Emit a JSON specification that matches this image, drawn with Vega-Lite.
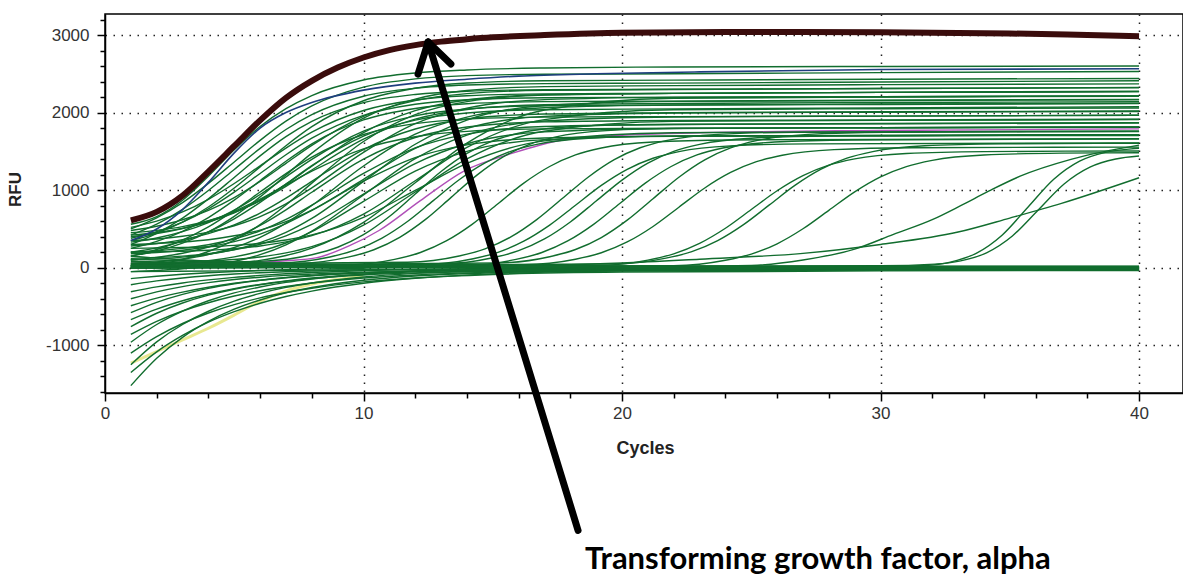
{
"$schema":"https://vega.github.io/schema/vega-lite/v6.json",
"width":1078,"height":379,
"autosize":{"type":"none"},
"padding":{"left":105,"top":14,"right":0,"bottom":184},
"background":"white",
"config":{"view":{"stroke":"#000","strokeWidth":1.5},
 "axis":{"domainColor":"#000","domainWidth":1.5,"tickColor":"#000","tickWidth":1.5,"labelFont":"Liberation Sans","labelFontSize":17,"labelColor":"#333","titleFont":"Liberation Sans","titleFontWeight":"bold","titleColor":"#222","gridColor":"#222","gridDash":[1.5,6.5],"gridWidth":1.5}},
"datasets":{
"green":[
{"id":"E1","cycle":1,"rfu":560},{"id":"E1","cycle":2,"rfu":660},{"id":"E1","cycle":3,"rfu":870},{"id":"E1","cycle":4,"rfu":1180},{"id":"E1","cycle":5,"rfu":1520},{"id":"E1","cycle":6,"rfu":1820},{"id":"E1","cycle":7,"rfu":2050},{"id":"E1","cycle":8,"rfu":2220},{"id":"E1","cycle":10,"rfu":2420},{"id":"E1","cycle":12,"rfu":2510},{"id":"E1","cycle":14,"rfu":2550},{"id":"E1","cycle":17,"rfu":2575},{"id":"E1","cycle":22,"rfu":2588},{"id":"E1","cycle":30,"rfu":2595},{"id":"E1","cycle":40,"rfu":2600},
{"id":"E2","cycle":1,"rfu":500},{"id":"E2","cycle":2,"rfu":644},{"id":"E2","cycle":3,"rfu":840},{"id":"E2","cycle":4,"rfu":1088},{"id":"E2","cycle":5,"rfu":1364},{"id":"E2","cycle":6,"rfu":1642},{"id":"E2","cycle":7,"rfu":1890},{"id":"E2","cycle":8,"rfu":2086},{"id":"E2","cycle":10,"rfu":2328},{"id":"E2","cycle":12,"rfu":2434},{"id":"E2","cycle":14,"rfu":2476},{"id":"E2","cycle":17,"rfu":2494},{"id":"E2","cycle":22,"rfu":2500},{"id":"E2","cycle":30,"rfu":2515},{"id":"E2","cycle":40,"rfu":2530},
{"id":"E3","cycle":1,"rfu":420},{"id":"E3","cycle":2,"rfu":561},{"id":"E3","cycle":3,"rfu":753},{"id":"E3","cycle":4,"rfu":996},{"id":"E3","cycle":5,"rfu":1267},{"id":"E3","cycle":6,"rfu":1539},{"id":"E3","cycle":7,"rfu":1782},{"id":"E3","cycle":8,"rfu":1974},{"id":"E3","cycle":10,"rfu":2211},{"id":"E3","cycle":12,"rfu":2315},{"id":"E3","cycle":14,"rfu":2356},{"id":"E3","cycle":17,"rfu":2374},{"id":"E3","cycle":22,"rfu":2380},{"id":"E3","cycle":30,"rfu":2395},{"id":"E3","cycle":40,"rfu":2410},
{"id":"E4","cycle":1,"rfu":300},{"id":"E4","cycle":2,"rfu":444},{"id":"E4","cycle":3,"rfu":640},{"id":"E4","cycle":4,"rfu":888},{"id":"E4","cycle":5,"rfu":1164},{"id":"E4","cycle":6,"rfu":1442},{"id":"E4","cycle":7,"rfu":1690},{"id":"E4","cycle":8,"rfu":1886},{"id":"E4","cycle":10,"rfu":2128},{"id":"E4","cycle":12,"rfu":2234},{"id":"E4","cycle":14,"rfu":2276},{"id":"E4","cycle":17,"rfu":2294},{"id":"E4","cycle":22,"rfu":2300},{"id":"E4","cycle":30,"rfu":2310},{"id":"E4","cycle":40,"rfu":2325},
{"id":"E5","cycle":1,"rfu":520},{"id":"E5","cycle":2,"rfu":601},{"id":"E5","cycle":3,"rfu":719},{"id":"E5","cycle":4,"rfu":882},{"id":"E5","cycle":5,"rfu":1086},{"id":"E5","cycle":6,"rfu":1314},{"id":"E5","cycle":7,"rfu":1542},{"id":"E5","cycle":8,"rfu":1747},{"id":"E5","cycle":10,"rfu":2027},{"id":"E5","cycle":12,"rfu":2162},{"id":"E5","cycle":14,"rfu":2217},{"id":"E5","cycle":17,"rfu":2241},{"id":"E5","cycle":22,"rfu":2248},{"id":"E5","cycle":30,"rfu":2260},{"id":"E5","cycle":40,"rfu":2275},
{"id":"E6","cycle":1,"rfu":380},{"id":"E6","cycle":2,"rfu":466},{"id":"E6","cycle":3,"rfu":589},{"id":"E6","cycle":4,"rfu":760},{"id":"E6","cycle":5,"rfu":975},{"id":"E6","cycle":6,"rfu":1215},{"id":"E6","cycle":7,"rfu":1456},{"id":"E6","cycle":8,"rfu":1670},{"id":"E6","cycle":10,"rfu":1965},{"id":"E6","cycle":12,"rfu":2107},{"id":"E6","cycle":14,"rfu":2165},{"id":"E6","cycle":17,"rfu":2191},{"id":"E6","cycle":22,"rfu":2198},{"id":"E6","cycle":30,"rfu":2205},{"id":"E6","cycle":40,"rfu":2215},
{"id":"E7","cycle":1,"rfu":250},{"id":"E7","cycle":2,"rfu":339},{"id":"E7","cycle":3,"rfu":469},{"id":"E7","cycle":4,"rfu":647},{"id":"E7","cycle":5,"rfu":871},{"id":"E7","cycle":6,"rfu":1122},{"id":"E7","cycle":7,"rfu":1373},{"id":"E7","cycle":8,"rfu":1597},{"id":"E7","cycle":10,"rfu":1905},{"id":"E7","cycle":12,"rfu":2053},{"id":"E7","cycle":14,"rfu":2114},{"id":"E7","cycle":17,"rfu":2141},{"id":"E7","cycle":22,"rfu":2148},{"id":"E7","cycle":30,"rfu":2160},{"id":"E7","cycle":40,"rfu":2170},
{"id":"E8","cycle":1,"rfu":480},{"id":"E8","cycle":2,"rfu":535},{"id":"E8","cycle":3,"rfu":618},{"id":"E8","cycle":4,"rfu":738},{"id":"E8","cycle":5,"rfu":904},{"id":"E8","cycle":6,"rfu":1112},{"id":"E8","cycle":7,"rfu":1345},{"id":"E8","cycle":8,"rfu":1577},{"id":"E8","cycle":10,"rfu":1952},{"id":"E8","cycle":12,"rfu":2154},{"id":"E8","cycle":14,"rfu":2245},{"id":"E8","cycle":17,"rfu":2287},{"id":"E8","cycle":22,"rfu":2298},{"id":"E8","cycle":30,"rfu":2310},{"id":"E8","cycle":40,"rfu":2320},
{"id":"E9","cycle":1,"rfu":330},{"id":"E9","cycle":2,"rfu":383},{"id":"E9","cycle":3,"rfu":465},{"id":"E9","cycle":4,"rfu":581},{"id":"E9","cycle":5,"rfu":742},{"id":"E9","cycle":6,"rfu":944},{"id":"E9","cycle":7,"rfu":1171},{"id":"E9","cycle":8,"rfu":1397},{"id":"E9","cycle":10,"rfu":1762},{"id":"E9","cycle":12,"rfu":1958},{"id":"E9","cycle":14,"rfu":2047},{"id":"E9","cycle":17,"rfu":2088},{"id":"E9","cycle":22,"rfu":2098},{"id":"E9","cycle":30,"rfu":2110},{"id":"E9","cycle":40,"rfu":2120},
{"id":"E10","cycle":1,"rfu":200},{"id":"E10","cycle":2,"rfu":256},{"id":"E10","cycle":3,"rfu":341},{"id":"E10","cycle":4,"rfu":463},{"id":"E10","cycle":5,"rfu":631},{"id":"E10","cycle":6,"rfu":842},{"id":"E10","cycle":7,"rfu":1079},{"id":"E10","cycle":8,"rfu":1316},{"id":"E10","cycle":10,"rfu":1697},{"id":"E10","cycle":12,"rfu":1902},{"id":"E10","cycle":14,"rfu":1995},{"id":"E10","cycle":17,"rfu":2037},{"id":"E10","cycle":22,"rfu":2048},{"id":"E10","cycle":30,"rfu":2060},{"id":"E10","cycle":40,"rfu":2075},
{"id":"E11","cycle":1,"rfu":150},{"id":"E11","cycle":2,"rfu":235},{"id":"E11","cycle":3,"rfu":357},{"id":"E11","cycle":4,"rfu":526},{"id":"E11","cycle":5,"rfu":739},{"id":"E11","cycle":6,"rfu":976},{"id":"E11","cycle":7,"rfu":1214},{"id":"E11","cycle":8,"rfu":1426},{"id":"E11","cycle":10,"rfu":1718},{"id":"E11","cycle":12,"rfu":1858},{"id":"E11","cycle":14,"rfu":1916},{"id":"E11","cycle":17,"rfu":1941},{"id":"E11","cycle":22,"rfu":1948},{"id":"E11","cycle":30,"rfu":1955},{"id":"E11","cycle":40,"rfu":1965},
{"id":"E12","cycle":1,"rfu":420},{"id":"E12","cycle":2,"rfu":455},{"id":"E12","cycle":3,"rfu":508},{"id":"E12","cycle":4,"rfu":590},{"id":"E12","cycle":5,"rfu":709},{"id":"E12","cycle":6,"rfu":872},{"id":"E12","cycle":7,"rfu":1077},{"id":"E12","cycle":8,"rfu":1308},{"id":"E12","cycle":10,"rfu":1743},{"id":"E12","cycle":12,"rfu":2025},{"id":"E12","cycle":14,"rfu":2162},{"id":"E12","cycle":17,"rfu":2230},{"id":"E12","cycle":22,"rfu":2248},{"id":"E12","cycle":30,"rfu":2260},{"id":"E12","cycle":40,"rfu":2270},
{"id":"E13","cycle":1,"rfu":280},{"id":"E13","cycle":2,"rfu":313},{"id":"E13","cycle":3,"rfu":363},{"id":"E13","cycle":4,"rfu":440},{"id":"E13","cycle":5,"rfu":552},{"id":"E13","cycle":6,"rfu":705},{"id":"E13","cycle":7,"rfu":897},{"id":"E13","cycle":8,"rfu":1114},{"id":"E13","cycle":10,"rfu":1524},{"id":"E13","cycle":12,"rfu":1788},{"id":"E13","cycle":14,"rfu":1917},{"id":"E13","cycle":17,"rfu":1981},{"id":"E13","cycle":22,"rfu":1998},{"id":"E13","cycle":30,"rfu":2010},{"id":"E13","cycle":40,"rfu":2020},
{"id":"E14","cycle":1,"rfu":100},{"id":"E14","cycle":2,"rfu":134},{"id":"E14","cycle":3,"rfu":186},{"id":"E14","cycle":4,"rfu":267},{"id":"E14","cycle":5,"rfu":384},{"id":"E14","cycle":6,"rfu":545},{"id":"E14","cycle":7,"rfu":746},{"id":"E14","cycle":8,"rfu":973},{"id":"E14","cycle":10,"rfu":1401},{"id":"E14","cycle":12,"rfu":1679},{"id":"E14","cycle":14,"rfu":1814},{"id":"E14","cycle":17,"rfu":1880},{"id":"E14","cycle":22,"rfu":1898},{"id":"E14","cycle":30,"rfu":1905},{"id":"E14","cycle":40,"rfu":1915},
{"id":"E15","cycle":1,"rfu":350},{"id":"E15","cycle":2,"rfu":370},{"id":"E15","cycle":3,"rfu":406},{"id":"E15","cycle":4,"rfu":459},{"id":"E15","cycle":5,"rfu":541},{"id":"E15","cycle":6,"rfu":659},{"id":"E15","cycle":7,"rfu":824},{"id":"E15","cycle":8,"rfu":1029},{"id":"E15","cycle":10,"rfu":1488},{"id":"E15","cycle":12,"rfu":1858},{"id":"E15","cycle":14,"rfu":2058},{"id":"E15","cycle":17,"rfu":2167},{"id":"E15","cycle":22,"rfu":2196},{"id":"E15","cycle":30,"rfu":2205},{"id":"E15","cycle":40,"rfu":2215},
{"id":"E16","cycle":1,"rfu":200},{"id":"E16","cycle":2,"rfu":218},{"id":"E16","cycle":3,"rfu":250},{"id":"E16","cycle":4,"rfu":297},{"id":"E16","cycle":5,"rfu":370},{"id":"E16","cycle":6,"rfu":476},{"id":"E16","cycle":7,"rfu":622},{"id":"E16","cycle":8,"rfu":806},{"id":"E16","cycle":10,"rfu":1215},{"id":"E16","cycle":12,"rfu":1545},{"id":"E16","cycle":14,"rfu":1723},{"id":"E16","cycle":17,"rfu":1820},{"id":"E16","cycle":22,"rfu":1847},{"id":"E16","cycle":30,"rfu":1855},{"id":"E16","cycle":40,"rfu":1865},
{"id":"E17","cycle":1,"rfu":50},{"id":"E17","cycle":2,"rfu":73},{"id":"E17","cycle":3,"rfu":112},{"id":"E17","cycle":4,"rfu":171},{"id":"E17","cycle":5,"rfu":261},{"id":"E17","cycle":6,"rfu":392},{"id":"E17","cycle":7,"rfu":575},{"id":"E17","cycle":8,"rfu":802},{"id":"E17","cycle":10,"rfu":1311},{"id":"E17","cycle":12,"rfu":1721},{"id":"E17","cycle":14,"rfu":1942},{"id":"E17","cycle":17,"rfu":2063},{"id":"E17","cycle":22,"rfu":2096},{"id":"E17","cycle":30,"rfu":2105},{"id":"E17","cycle":40,"rfu":2115},
{"id":"E18","cycle":1,"rfu":300},{"id":"E18","cycle":2,"rfu":312},{"id":"E18","cycle":3,"rfu":331},{"id":"E18","cycle":4,"rfu":361},{"id":"E18","cycle":5,"rfu":412},{"id":"E18","cycle":6,"rfu":485},{"id":"E18","cycle":7,"rfu":594},{"id":"E18","cycle":8,"rfu":744},{"id":"E18","cycle":10,"rfu":1140},{"id":"E18","cycle":12,"rfu":1538},{"id":"E18","cycle":14,"rfu":1796},{"id":"E18","cycle":17,"rfu":1951},{"id":"E18","cycle":22,"rfu":1995},{"id":"E18","cycle":30,"rfu":2005},{"id":"E18","cycle":40,"rfu":2015},
{"id":"E19","cycle":1,"rfu":120},{"id":"E19","cycle":2,"rfu":132},{"id":"E19","cycle":3,"rfu":150},{"id":"E19","cycle":4,"rfu":180},{"id":"E19","cycle":5,"rfu":231},{"id":"E19","cycle":6,"rfu":303},{"id":"E19","cycle":7,"rfu":411},{"id":"E19","cycle":8,"rfu":558},{"id":"E19","cycle":10,"rfu":950},{"id":"E19","cycle":12,"rfu":1343},{"id":"E19","cycle":14,"rfu":1598},{"id":"E19","cycle":17,"rfu":1751},{"id":"E19","cycle":22,"rfu":1795},{"id":"E19","cycle":30,"rfu":1805},{"id":"E19","cycle":40,"rfu":1815},
{"id":"E20","cycle":1,"rfu":-50},{"id":"E20","cycle":2,"rfu":-36},{"id":"E20","cycle":3,"rfu":-14},{"id":"E20","cycle":4,"rfu":22},{"id":"E20","cycle":5,"rfu":82},{"id":"E20","cycle":6,"rfu":168},{"id":"E20","cycle":7,"rfu":296},{"id":"E20","cycle":8,"rfu":472},{"id":"E20","cycle":10,"rfu":938},{"id":"E20","cycle":12,"rfu":1406},{"id":"E20","cycle":14,"rfu":1710},{"id":"E20","cycle":17,"rfu":1892},{"id":"E20","cycle":22,"rfu":1944},{"id":"E20","cycle":30,"rfu":1955},{"id":"E20","cycle":40,"rfu":1965},
{"id":"E21","cycle":1,"rfu":250},{"id":"E21","cycle":2,"rfu":255},{"id":"E21","cycle":3,"rfu":261},{"id":"E21","cycle":4,"rfu":271},{"id":"E21","cycle":5,"rfu":288},{"id":"E21","cycle":6,"rfu":315},{"id":"E21","cycle":7,"rfu":358},{"id":"E21","cycle":8,"rfu":423},{"id":"E21","cycle":10,"rfu":649},{"id":"E21","cycle":12,"rfu":997},{"id":"E21","cycle":14,"rfu":1345},{"id":"E21","cycle":17,"rfu":1636},{"id":"E21","cycle":22,"rfu":1740},{"id":"E21","cycle":30,"rfu":1752},{"id":"E21","cycle":40,"rfu":1760},
{"id":"E22","cycle":1,"rfu":60},{"id":"E22","cycle":2,"rfu":66},{"id":"E22","cycle":3,"rfu":73},{"id":"E22","cycle":4,"rfu":86},{"id":"E22","cycle":5,"rfu":106},{"id":"E22","cycle":6,"rfu":139},{"id":"E22","cycle":7,"rfu":192},{"id":"E22","cycle":8,"rfu":272},{"id":"E22","cycle":10,"rfu":549},{"id":"E22","cycle":12,"rfu":976},{"id":"E22","cycle":14,"rfu":1403},{"id":"E22","cycle":17,"rfu":1760},{"id":"E22","cycle":22,"rfu":1887},{"id":"E22","cycle":30,"rfu":1900},{"id":"E22","cycle":40,"rfu":1910},
{"id":"E23","cycle":1,"rfu":180},{"id":"E23","cycle":2,"rfu":197},{"id":"E23","cycle":3,"rfu":226},{"id":"E23","cycle":4,"rfu":270},{"id":"E23","cycle":5,"rfu":337},{"id":"E23","cycle":6,"rfu":434},{"id":"E23","cycle":7,"rfu":569},{"id":"E23","cycle":8,"rfu":738},{"id":"E23","cycle":10,"rfu":1115},{"id":"E23","cycle":12,"rfu":1419},{"id":"E23","cycle":14,"rfu":1583},{"id":"E23","cycle":17,"rfu":1673},{"id":"E23","cycle":22,"rfu":1697},{"id":"E23","cycle":30,"rfu":1705},{"id":"E23","cycle":40,"rfu":1715},
{"id":"E24","cycle":1,"rfu":400},{"id":"E24","cycle":2,"rfu":442},{"id":"E24","cycle":3,"rfu":506},{"id":"E24","cycle":4,"rfu":599},{"id":"E24","cycle":5,"rfu":726},{"id":"E24","cycle":6,"rfu":886},{"id":"E24","cycle":7,"rfu":1065},{"id":"E24","cycle":8,"rfu":1244},{"id":"E24","cycle":10,"rfu":1533},{"id":"E24","cycle":12,"rfu":1688},{"id":"E24","cycle":14,"rfu":1758},{"id":"E24","cycle":17,"rfu":1790},{"id":"E24","cycle":22,"rfu":1799},{"id":"E24","cycle":30,"rfu":1805},{"id":"E24","cycle":40,"rfu":1810},
{"id":"E25","cycle":1,"rfu":0},{"id":"E25","cycle":2,"rfu":43},{"id":"E25","cycle":3,"rfu":108},{"id":"E25","cycle":4,"rfu":209},{"id":"E25","cycle":5,"rfu":356},{"id":"E25","cycle":6,"rfu":556},{"id":"E25","cycle":7,"rfu":808},{"id":"E25","cycle":8,"rfu":1091},{"id":"E25","cycle":10,"rfu":1627},{"id":"E25","cycle":12,"rfu":1973},{"id":"E25","cycle":14,"rfu":2142},{"id":"E25","cycle":17,"rfu":2225},{"id":"E25","cycle":22,"rfu":2248},{"id":"E25","cycle":30,"rfu":2260},{"id":"E25","cycle":40,"rfu":2270},
{"id":"E26","cycle":1,"rfu":100},{"id":"E26","cycle":2,"rfu":114},{"id":"E26","cycle":3,"rfu":137},{"id":"E26","cycle":4,"rfu":174},{"id":"E26","cycle":5,"rfu":235},{"id":"E26","cycle":6,"rfu":323},{"id":"E26","cycle":7,"rfu":455},{"id":"E26","cycle":8,"rfu":635},{"id":"E26","cycle":10,"rfu":1113},{"id":"E26","cycle":12,"rfu":1592},{"id":"E26","cycle":14,"rfu":1904},{"id":"E26","cycle":17,"rfu":2091},{"id":"E26","cycle":22,"rfu":2144},{"id":"E26","cycle":30,"rfu":2155},{"id":"E26","cycle":40,"rfu":2165},
{"id":"E27","cycle":1,"rfu":200},{"id":"E27","cycle":2,"rfu":206},{"id":"E27","cycle":3,"rfu":213},{"id":"E27","cycle":4,"rfu":226},{"id":"E27","cycle":5,"rfu":246},{"id":"E27","cycle":6,"rfu":280},{"id":"E27","cycle":7,"rfu":333},{"id":"E27","cycle":8,"rfu":413},{"id":"E27","cycle":10,"rfu":692},{"id":"E27","cycle":12,"rfu":1121},{"id":"E27","cycle":14,"rfu":1551},{"id":"E27","cycle":17,"rfu":1909},{"id":"E27","cycle":22,"rfu":2037},{"id":"E27","cycle":30,"rfu":2050},{"id":"E27","cycle":40,"rfu":2060},
{"id":"E28","cycle":1,"rfu":350},{"id":"E28","cycle":2,"rfu":447},{"id":"E28","cycle":3,"rfu":588},{"id":"E28","cycle":4,"rfu":783},{"id":"E28","cycle":5,"rfu":1027},{"id":"E28","cycle":6,"rfu":1300},{"id":"E28","cycle":7,"rfu":1573},{"id":"E28","cycle":8,"rfu":1818},{"id":"E28","cycle":10,"rfu":2153},{"id":"E28","cycle":12,"rfu":2314},{"id":"E28","cycle":14,"rfu":2381},{"id":"E28","cycle":17,"rfu":2410},{"id":"E28","cycle":22,"rfu":2418},{"id":"E28","cycle":30,"rfu":2430},{"id":"E28","cycle":40,"rfu":2440},
{"id":"E29","cycle":1,"rfu":450},{"id":"E29","cycle":2,"rfu":482},{"id":"E29","cycle":3,"rfu":530},{"id":"E29","cycle":4,"rfu":605},{"id":"E29","cycle":5,"rfu":714},{"id":"E29","cycle":6,"rfu":862},{"id":"E29","cycle":7,"rfu":1050},{"id":"E29","cycle":8,"rfu":1260},{"id":"E29","cycle":10,"rfu":1657},{"id":"E29","cycle":12,"rfu":1915},{"id":"E29","cycle":14,"rfu":2040},{"id":"E29","cycle":17,"rfu":2102},{"id":"E29","cycle":22,"rfu":2118},{"id":"E29","cycle":30,"rfu":2130},{"id":"E29","cycle":40,"rfu":2140},
{"id":"E30","cycle":1,"rfu":150},{"id":"E30","cycle":2,"rfu":216},{"id":"E30","cycle":3,"rfu":317},{"id":"E30","cycle":4,"rfu":462},{"id":"E30","cycle":5,"rfu":663},{"id":"E30","cycle":6,"rfu":913},{"id":"E30","cycle":7,"rfu":1195},{"id":"E30","cycle":8,"rfu":1477},{"id":"E30","cycle":10,"rfu":1930},{"id":"E30","cycle":12,"rfu":2174},{"id":"E30","cycle":14,"rfu":2284},{"id":"E30","cycle":17,"rfu":2335},{"id":"E30","cycle":22,"rfu":2348},{"id":"E30","cycle":30,"rfu":2360},{"id":"E30","cycle":40,"rfu":2370},
{"id":"E31","cycle":1,"rfu":30},{"id":"E31","cycle":2,"rfu":42},{"id":"E31","cycle":3,"rfu":60},{"id":"E31","cycle":4,"rfu":90},{"id":"E31","cycle":5,"rfu":140},{"id":"E31","cycle":6,"rfu":212},{"id":"E31","cycle":7,"rfu":319},{"id":"E31","cycle":8,"rfu":466},{"id":"E31","cycle":10,"rfu":855},{"id":"E31","cycle":12,"rfu":1246},{"id":"E31","cycle":14,"rfu":1500},{"id":"E31","cycle":17,"rfu":1652},{"id":"E31","cycle":22,"rfu":1695},{"id":"E31","cycle":30,"rfu":1700},{"id":"E31","cycle":40,"rfu":1705},
{"id":"E32","cycle":1,"rfu":0},{"id":"E32","cycle":2,"rfu":7},{"id":"E32","cycle":3,"rfu":15},{"id":"E32","cycle":4,"rfu":31},{"id":"E32","cycle":5,"rfu":55},{"id":"E32","cycle":6,"rfu":95},{"id":"E32","cycle":7,"rfu":158},{"id":"E32","cycle":8,"rfu":253},{"id":"E32","cycle":10,"rfu":585},{"id":"E32","cycle":12,"rfu":1096},{"id":"E32","cycle":14,"rfu":1606},{"id":"E32","cycle":17,"rfu":2033},{"id":"E32","cycle":22,"rfu":2185},{"id":"E32","cycle":30,"rfu":2200},{"id":"E32","cycle":40,"rfu":2210},
{"id":"L1","cycle":1,"rfu":50},{"id":"L1","cycle":6,"rfu":82},{"id":"L1","cycle":8,"rfu":167},{"id":"L1","cycle":9,"rfu":264},{"id":"L1","cycle":10,"rfu":426},{"id":"L1","cycle":11,"rfu":660},{"id":"L1","cycle":12,"rfu":950},{"id":"L1","cycle":13,"rfu":1240},{"id":"L1","cycle":14,"rfu":1474},{"id":"L1","cycle":15,"rfu":1636},{"id":"L1","cycle":16,"rfu":1733},{"id":"L1","cycle":18,"rfu":1818},{"id":"L1","cycle":21,"rfu":1846},{"id":"L1","cycle":30,"rfu":1860},{"id":"L1","cycle":40,"rfu":1870},
{"id":"L2","cycle":1,"rfu":30},{"id":"L2","cycle":6.7,"rfu":60},{"id":"L2","cycle":8.7,"rfu":139},{"id":"L2","cycle":9.7,"rfu":229},{"id":"L2","cycle":10.7,"rfu":379},{"id":"L2","cycle":11.7,"rfu":596},{"id":"L2","cycle":12.7,"rfu":865},{"id":"L2","cycle":13.7,"rfu":1134},{"id":"L2","cycle":14.7,"rfu":1351},{"id":"L2","cycle":15.7,"rfu":1501},{"id":"L2","cycle":16.7,"rfu":1591},{"id":"L2","cycle":18.7,"rfu":1670},{"id":"L2","cycle":21.7,"rfu":1697},{"id":"L2","cycle":30,"rfu":1705},{"id":"L2","cycle":40,"rfu":1715},
{"id":"L3","cycle":1,"rfu":20},{"id":"L3","cycle":7.4,"rfu":52},{"id":"L3","cycle":9.4,"rfu":136},{"id":"L3","cycle":10.4,"rfu":232},{"id":"L3","cycle":11.4,"rfu":392},{"id":"L3","cycle":12.4,"rfu":623},{"id":"L3","cycle":13.4,"rfu":910},{"id":"L3","cycle":14.4,"rfu":1197},{"id":"L3","cycle":15.4,"rfu":1428},{"id":"L3","cycle":16.4,"rfu":1588},{"id":"L3","cycle":17.4,"rfu":1684},{"id":"L3","cycle":19.4,"rfu":1768},{"id":"L3","cycle":22.4,"rfu":1796},{"id":"L3","cycle":30,"rfu":1805},{"id":"L3","cycle":40,"rfu":1815},
{"id":"L4","cycle":1,"rfu":0},{"id":"L4","cycle":9.2,"rfu":30},{"id":"L4","cycle":11.2,"rfu":107},{"id":"L4","cycle":12.2,"rfu":196},{"id":"L4","cycle":13.2,"rfu":345},{"id":"L4","cycle":14.2,"rfu":559},{"id":"L4","cycle":15.2,"rfu":825},{"id":"L4","cycle":16.2,"rfu":1091},{"id":"L4","cycle":17.2,"rfu":1305},{"id":"L4","cycle":18.2,"rfu":1454},{"id":"L4","cycle":19.2,"rfu":1543},{"id":"L4","cycle":21.2,"rfu":1620},{"id":"L4","cycle":24.2,"rfu":1647},{"id":"L4","cycle":30,"rfu":1655},{"id":"L4","cycle":40,"rfu":1665},
{"id":"L5","cycle":1,"rfu":40},{"id":"L5","cycle":11.7,"rfu":71},{"id":"L5","cycle":13.7,"rfu":151},{"id":"L5","cycle":14.7,"rfu":243},{"id":"L5","cycle":15.7,"rfu":397},{"id":"L5","cycle":16.7,"rfu":620},{"id":"L5","cycle":17.7,"rfu":895},{"id":"L5","cycle":18.7,"rfu":1170},{"id":"L5","cycle":19.7,"rfu":1393},{"id":"L5","cycle":20.7,"rfu":1547},{"id":"L5","cycle":21.7,"rfu":1639},{"id":"L5","cycle":23.7,"rfu":1719},{"id":"L5","cycle":26.7,"rfu":1747},{"id":"L5","cycle":40,"rfu":1760},
{"id":"L6","cycle":1,"rfu":10},{"id":"L6","cycle":12.2,"rfu":39},{"id":"L6","cycle":14.2,"rfu":113},{"id":"L6","cycle":15.2,"rfu":199},{"id":"L6","cycle":16.2,"rfu":342},{"id":"L6","cycle":17.2,"rfu":549},{"id":"L6","cycle":18.2,"rfu":805},{"id":"L6","cycle":19.2,"rfu":1061},{"id":"L6","cycle":20.2,"rfu":1268},{"id":"L6","cycle":21.2,"rfu":1411},{"id":"L6","cycle":22.2,"rfu":1497},{"id":"L6","cycle":24.2,"rfu":1571},{"id":"L6","cycle":27.2,"rfu":1597},{"id":"L6","cycle":40,"rfu":1610},
{"id":"L7","cycle":1,"rfu":20},{"id":"L7","cycle":13,"rfu":50},{"id":"L7","cycle":15,"rfu":129},{"id":"L7","cycle":16,"rfu":220},{"id":"L7","cycle":17,"rfu":371},{"id":"L7","cycle":18,"rfu":590},{"id":"L7","cycle":19,"rfu":860},{"id":"L7","cycle":20,"rfu":1130},{"id":"L7","cycle":21,"rfu":1349},{"id":"L7","cycle":22,"rfu":1500},{"id":"L7","cycle":23,"rfu":1591},{"id":"L7","cycle":25,"rfu":1670},{"id":"L7","cycle":28,"rfu":1697},{"id":"L7","cycle":40,"rfu":1710},
{"id":"L8","cycle":1,"rfu":0},{"id":"L8","cycle":13.9,"rfu":30},{"id":"L8","cycle":15.9,"rfu":107},{"id":"L8","cycle":16.9,"rfu":196},{"id":"L8","cycle":17.9,"rfu":345},{"id":"L8","cycle":18.9,"rfu":559},{"id":"L8","cycle":19.9,"rfu":825},{"id":"L8","cycle":20.9,"rfu":1091},{"id":"L8","cycle":21.9,"rfu":1305},{"id":"L8","cycle":22.9,"rfu":1454},{"id":"L8","cycle":23.9,"rfu":1543},{"id":"L8","cycle":25.9,"rfu":1620},{"id":"L8","cycle":28.9,"rfu":1647},{"id":"L8","cycle":40,"rfu":1660},
{"id":"L9","cycle":1,"rfu":30},{"id":"L9","cycle":15.2,"rfu":61},{"id":"L9","cycle":17.2,"rfu":142},{"id":"L9","cycle":18.2,"rfu":235},{"id":"L9","cycle":19.2,"rfu":389},{"id":"L9","cycle":20.2,"rfu":613},{"id":"L9","cycle":21.2,"rfu":890},{"id":"L9","cycle":22.2,"rfu":1167},{"id":"L9","cycle":23.2,"rfu":1391},{"id":"L9","cycle":24.2,"rfu":1545},{"id":"L9","cycle":25.2,"rfu":1638},{"id":"L9","cycle":27.2,"rfu":1719},{"id":"L9","cycle":30.2,"rfu":1747},{"id":"L9","cycle":40,"rfu":1755},
{"id":"L10","cycle":1,"rfu":10},{"id":"L10","cycle":16.2,"rfu":38},{"id":"L10","cycle":18.2,"rfu":110},{"id":"L10","cycle":19.2,"rfu":193},{"id":"L10","cycle":20.2,"rfu":332},{"id":"L10","cycle":21.2,"rfu":532},{"id":"L10","cycle":22.2,"rfu":780},{"id":"L10","cycle":23.2,"rfu":1028},{"id":"L10","cycle":24.2,"rfu":1228},{"id":"L10","cycle":25.2,"rfu":1367},{"id":"L10","cycle":26.2,"rfu":1450},{"id":"L10","cycle":28.2,"rfu":1522},{"id":"L10","cycle":31.2,"rfu":1547},{"id":"L10","cycle":40,"rfu":1555},
{"id":"L11","cycle":1,"rfu":0},{"id":"L11","cycle":19,"rfu":27},{"id":"L11","cycle":21,"rfu":98},{"id":"L11","cycle":22,"rfu":179},{"id":"L11","cycle":23,"rfu":314},{"id":"L11","cycle":24,"rfu":509},{"id":"L11","cycle":25,"rfu":750},{"id":"L11","cycle":26,"rfu":992},{"id":"L11","cycle":27,"rfu":1187},{"id":"L11","cycle":28,"rfu":1322},{"id":"L11","cycle":29,"rfu":1403},{"id":"L11","cycle":31,"rfu":1473},{"id":"L11","cycle":34,"rfu":1497},{"id":"L11","cycle":40,"rfu":1505},
{"id":"L12","cycle":1,"rfu":20},{"id":"L12","cycle":19.7,"rfu":48},{"id":"L12","cycle":21.7,"rfu":123},{"id":"L12","cycle":22.7,"rfu":208},{"id":"L12","cycle":23.7,"rfu":350},{"id":"L12","cycle":24.7,"rfu":556},{"id":"L12","cycle":25.7,"rfu":810},{"id":"L12","cycle":26.7,"rfu":1064},{"id":"L12","cycle":27.7,"rfu":1270},{"id":"L12","cycle":28.7,"rfu":1412},{"id":"L12","cycle":29.7,"rfu":1497},{"id":"L12","cycle":31.7,"rfu":1572},{"id":"L12","cycle":34.7,"rfu":1597},{"id":"L12","cycle":40,"rfu":1605},
{"id":"L13","cycle":1,"rfu":0},{"id":"L13","cycle":22,"rfu":27},{"id":"L13","cycle":24,"rfu":96},{"id":"L13","cycle":25,"rfu":176},{"id":"L13","cycle":26,"rfu":309},{"id":"L13","cycle":27,"rfu":502},{"id":"L13","cycle":28,"rfu":740},{"id":"L13","cycle":29,"rfu":978},{"id":"L13","cycle":30,"rfu":1171},{"id":"L13","cycle":31,"rfu":1304},{"id":"L13","cycle":32,"rfu":1384},{"id":"L13","cycle":34,"rfu":1453},{"id":"L13","cycle":37,"rfu":1477},{"id":"L13","cycle":40,"rfu":1482},
{"id":"LB","cycle":1,"rfu":20},{"id":"LB","cycle":10,"rfu":15},{"id":"LB","cycle":15,"rfu":20},{"id":"LB","cycle":20,"rfu":60},{"id":"LB","cycle":23,"rfu":110},{"id":"LB","cycle":27,"rfu":185},{"id":"LB","cycle":30,"rfu":300},{"id":"LB","cycle":33,"rfu":460},{"id":"LB","cycle":35,"rfu":640},{"id":"LB","cycle":37,"rfu":830},{"id":"LB","cycle":40,"rfu":1160},
{"id":"LC","cycle":1,"rfu":0},{"id":"LC","cycle":20,"rfu":10},{"id":"LC","cycle":25,"rfu":30},{"id":"LC","cycle":27,"rfu":100},{"id":"LC","cycle":29,"rfu":240},{"id":"LC","cycle":30.5,"rfu":430},{"id":"LC","cycle":32,"rfu":620},{"id":"LC","cycle":33.1,"rfu":800},{"id":"LC","cycle":34.2,"rfu":990},{"id":"LC","cycle":35.4,"rfu":1180},{"id":"LC","cycle":37.4,"rfu":1400},{"id":"LC","cycle":40,"rfu":1580},
{"id":"LD","cycle":1,"rfu":0},{"id":"LD","cycle":20,"rfu":5},{"id":"LD","cycle":30,"rfu":10},{"id":"LD","cycle":31.7,"rfu":28},{"id":"LD","cycle":32.7,"rfu":73},{"id":"LD","cycle":33.7,"rfu":186},{"id":"LD","cycle":34.7,"rfu":420},{"id":"LD","cycle":35.7,"rfu":780},{"id":"LD","cycle":36.7,"rfu":1140},{"id":"LD","cycle":37.7,"rfu":1374},{"id":"LD","cycle":38.7,"rfu":1487},{"id":"LD","cycle":39.7,"rfu":1532},{"id":"LD","cycle":40,"rfu":1540},
{"id":"LE","cycle":1,"rfu":20},{"id":"LE","cycle":20,"rfu":20},{"id":"LE","cycle":30,"rfu":25},{"id":"LE","cycle":32.1,"rfu":46},{"id":"LE","cycle":33.1,"rfu":88},{"id":"LE","cycle":34.1,"rfu":193},{"id":"LE","cycle":35.1,"rfu":410},{"id":"LE","cycle":36.1,"rfu":745},{"id":"LE","cycle":37.1,"rfu":1080},{"id":"LE","cycle":38.1,"rfu":1297},{"id":"LE","cycle":39.1,"rfu":1402},{"id":"LE","cycle":40,"rfu":1440},
{"id":"N1","cycle":1,"rfu":-1520},{"id":"N1","cycle":2,"rfu":-1167},{"id":"N1","cycle":3,"rfu":-897},{"id":"N1","cycle":4,"rfu":-692},{"id":"N1","cycle":5,"rfu":-535},{"id":"N1","cycle":6,"rfu":-416},{"id":"N1","cycle":7,"rfu":-324},{"id":"N1","cycle":8,"rfu":-255},{"id":"N1","cycle":10,"rfu":-161},{"id":"N1","cycle":12,"rfu":-106},{"id":"N1","cycle":15,"rfu":-64},{"id":"N1","cycle":20,"rfu":-39},{"id":"N1","cycle":30,"rfu":-30},{"id":"N1","cycle":40,"rfu":-20},
{"id":"N2","cycle":1,"rfu":-1350},{"id":"N2","cycle":2,"rfu":-1084},{"id":"N2","cycle":3,"rfu":-873},{"id":"N2","cycle":4,"rfu":-702},{"id":"N2","cycle":5,"rfu":-567},{"id":"N2","cycle":6,"rfu":-458},{"id":"N2","cycle":7,"rfu":-371},{"id":"N2","cycle":8,"rfu":-301},{"id":"N2","cycle":10,"rfu":-200},{"id":"N2","cycle":12,"rfu":-136},{"id":"N2","cycle":15,"rfu":-79},{"id":"N2","cycle":20,"rfu":-40},{"id":"N2","cycle":30,"rfu":-21},{"id":"N2","cycle":40,"rfu":-15},
{"id":"N3","cycle":1,"rfu":-1250},{"id":"N3","cycle":2,"rfu":-956},{"id":"N3","cycle":3,"rfu":-732},{"id":"N3","cycle":4,"rfu":-561},{"id":"N3","cycle":5,"rfu":-430},{"id":"N3","cycle":6,"rfu":-331},{"id":"N3","cycle":7,"rfu":-254},{"id":"N3","cycle":8,"rfu":-197},{"id":"N3","cycle":10,"rfu":-119},{"id":"N3","cycle":12,"rfu":-73},{"id":"N3","cycle":15,"rfu":-39},{"id":"N3","cycle":20,"rfu":-17},{"id":"N3","cycle":30,"rfu":-10},{"id":"N3","cycle":40,"rfu":-10},
{"id":"N4","cycle":1,"rfu":-1100},{"id":"N4","cycle":2,"rfu":-888},{"id":"N4","cycle":3,"rfu":-719},{"id":"N4","cycle":4,"rfu":-584},{"id":"N4","cycle":5,"rfu":-476},{"id":"N4","cycle":6,"rfu":-389},{"id":"N4","cycle":7,"rfu":-320},{"id":"N4","cycle":8,"rfu":-264},{"id":"N4","cycle":10,"rfu":-183},{"id":"N4","cycle":12,"rfu":-132},{"id":"N4","cycle":15,"rfu":-87},{"id":"N4","cycle":20,"rfu":-56},{"id":"N4","cycle":30,"rfu":-41},{"id":"N4","cycle":40,"rfu":-35},
{"id":"N5","cycle":1,"rfu":-960},{"id":"N5","cycle":2,"rfu":-732},{"id":"N5","cycle":3,"rfu":-559},{"id":"N5","cycle":4,"rfu":-426},{"id":"N5","cycle":5,"rfu":-325},{"id":"N5","cycle":6,"rfu":-249},{"id":"N5","cycle":7,"rfu":-189},{"id":"N5","cycle":8,"rfu":-145},{"id":"N5","cycle":10,"rfu":-84},{"id":"N5","cycle":12,"rfu":-49},{"id":"N5","cycle":15,"rfu":-22},{"id":"N5","cycle":20,"rfu":-6},{"id":"N5","cycle":30,"rfu":0},{"id":"N5","cycle":40,"rfu":0},
{"id":"N6","cycle":1,"rfu":-860},{"id":"N6","cycle":2,"rfu":-692},{"id":"N6","cycle":3,"rfu":-558},{"id":"N6","cycle":4,"rfu":-451},{"id":"N6","cycle":5,"rfu":-365},{"id":"N6","cycle":6,"rfu":-296},{"id":"N6","cycle":7,"rfu":-242},{"id":"N6","cycle":8,"rfu":-197},{"id":"N6","cycle":10,"rfu":-133},{"id":"N6","cycle":12,"rfu":-93},{"id":"N6","cycle":15,"rfu":-57},{"id":"N6","cycle":20,"rfu":-33},{"id":"N6","cycle":30,"rfu":-21},{"id":"N6","cycle":40,"rfu":-20},
{"id":"N7","cycle":1,"rfu":-760},{"id":"N7","cycle":2,"rfu":-587},{"id":"N7","cycle":3,"rfu":-455},{"id":"N7","cycle":4,"rfu":-354},{"id":"N7","cycle":5,"rfu":-277},{"id":"N7","cycle":6,"rfu":-219},{"id":"N7","cycle":7,"rfu":-174},{"id":"N7","cycle":8,"rfu":-140},{"id":"N7","cycle":10,"rfu":-94},{"id":"N7","cycle":12,"rfu":-67},{"id":"N7","cycle":15,"rfu":-47},{"id":"N7","cycle":20,"rfu":-34},{"id":"N7","cycle":30,"rfu":-30},{"id":"N7","cycle":40,"rfu":-25},
{"id":"N8","cycle":1,"rfu":-670},{"id":"N8","cycle":2,"rfu":-534},{"id":"N8","cycle":3,"rfu":-426},{"id":"N8","cycle":4,"rfu":-339},{"id":"N8","cycle":5,"rfu":-269},{"id":"N8","cycle":6,"rfu":-214},{"id":"N8","cycle":7,"rfu":-170},{"id":"N8","cycle":8,"rfu":-133},{"id":"N8","cycle":10,"rfu":-82},{"id":"N8","cycle":12,"rfu":-49},{"id":"N8","cycle":15,"rfu":-20},{"id":"N8","cycle":20,"rfu":0},{"id":"N8","cycle":30,"rfu":9},{"id":"N8","cycle":40,"rfu":10},
{"id":"N9","cycle":1,"rfu":-580},{"id":"N9","cycle":2,"rfu":-446},{"id":"N9","cycle":3,"rfu":-344},{"id":"N9","cycle":4,"rfu":-266},{"id":"N9","cycle":5,"rfu":-207},{"id":"N9","cycle":6,"rfu":-161},{"id":"N9","cycle":7,"rfu":-126},{"id":"N9","cycle":8,"rfu":-100},{"id":"N9","cycle":10,"rfu":-65},{"id":"N9","cycle":12,"rfu":-44},{"id":"N9","cycle":15,"rfu":-28},{"id":"N9","cycle":20,"rfu":-18},{"id":"N9","cycle":30,"rfu":-15},{"id":"N9","cycle":40,"rfu":-15},
{"id":"N10","cycle":1,"rfu":-490},{"id":"N10","cycle":2,"rfu":-392},{"id":"N10","cycle":3,"rfu":-314},{"id":"N10","cycle":4,"rfu":-251},{"id":"N10","cycle":5,"rfu":-201},{"id":"N10","cycle":6,"rfu":-161},{"id":"N10","cycle":7,"rfu":-129},{"id":"N10","cycle":8,"rfu":-103},{"id":"N10","cycle":10,"rfu":-66},{"id":"N10","cycle":12,"rfu":-43},{"id":"N10","cycle":15,"rfu":-22},{"id":"N10","cycle":20,"rfu":-7},{"id":"N10","cycle":30,"rfu":0},{"id":"N10","cycle":40,"rfu":0},
{"id":"N11","cycle":1,"rfu":-400},{"id":"N11","cycle":2,"rfu":-311},{"id":"N11","cycle":3,"rfu":-243},{"id":"N11","cycle":4,"rfu":-192},{"id":"N11","cycle":5,"rfu":-152},{"id":"N11","cycle":6,"rfu":-122},{"id":"N11","cycle":7,"rfu":-99},{"id":"N11","cycle":8,"rfu":-82},{"id":"N11","cycle":10,"rfu":-58},{"id":"N11","cycle":12,"rfu":-44},{"id":"N11","cycle":15,"rfu":-34},{"id":"N11","cycle":20,"rfu":-27},{"id":"N11","cycle":30,"rfu":-25},{"id":"N11","cycle":40,"rfu":-25},
{"id":"N12","cycle":1,"rfu":-310},{"id":"N12","cycle":2,"rfu":-247},{"id":"N12","cycle":3,"rfu":-197},{"id":"N12","cycle":4,"rfu":-157},{"id":"N12","cycle":5,"rfu":-124},{"id":"N12","cycle":6,"rfu":-99},{"id":"N12","cycle":7,"rfu":-78},{"id":"N12","cycle":8,"rfu":-61},{"id":"N12","cycle":10,"rfu":-38},{"id":"N12","cycle":12,"rfu":-22},{"id":"N12","cycle":15,"rfu":-9},{"id":"N12","cycle":20,"rfu":0},{"id":"N12","cycle":30,"rfu":5},{"id":"N12","cycle":40,"rfu":5},
{"id":"N13","cycle":1,"rfu":-220},{"id":"N13","cycle":2,"rfu":-170},{"id":"N13","cycle":3,"rfu":-132},{"id":"N13","cycle":4,"rfu":-103},{"id":"N13","cycle":5,"rfu":-81},{"id":"N13","cycle":6,"rfu":-64},{"id":"N13","cycle":7,"rfu":-51},{"id":"N13","cycle":8,"rfu":-42},{"id":"N13","cycle":10,"rfu":-28},{"id":"N13","cycle":12,"rfu":-21},{"id":"N13","cycle":15,"rfu":-15},{"id":"N13","cycle":20,"rfu":-11},{"id":"N13","cycle":30,"rfu":-10},{"id":"N13","cycle":40,"rfu":-10},
{"id":"N14","cycle":1,"rfu":-140},{"id":"N14","cycle":2,"rfu":-109},{"id":"N14","cycle":3,"rfu":-84},{"id":"N14","cycle":4,"rfu":-65},{"id":"N14","cycle":5,"rfu":-49},{"id":"N14","cycle":6,"rfu":-36},{"id":"N14","cycle":7,"rfu":-26},{"id":"N14","cycle":8,"rfu":-18},{"id":"N14","cycle":10,"rfu":-6},{"id":"N14","cycle":12,"rfu":2},{"id":"N14","cycle":15,"rfu":8},{"id":"N14","cycle":20,"rfu":13},{"id":"N14","cycle":30,"rfu":15},{"id":"N14","cycle":40,"rfu":15},
{"id":"P1","cycle":1,"rfu":150},{"id":"P1","cycle":2,"rfu":124},{"id":"P1","cycle":3,"rfu":103},{"id":"P1","cycle":4,"rfu":87},{"id":"P1","cycle":5,"rfu":73},{"id":"P1","cycle":6,"rfu":63},{"id":"P1","cycle":7,"rfu":54},{"id":"P1","cycle":8,"rfu":47},{"id":"P1","cycle":10,"rfu":38},{"id":"P1","cycle":12,"rfu":31},{"id":"P1","cycle":15,"rfu":26},{"id":"P1","cycle":20,"rfu":22},{"id":"P1","cycle":30,"rfu":20},{"id":"P1","cycle":40,"rfu":20},
{"id":"P2","cycle":1,"rfu":80},{"id":"P2","cycle":2,"rfu":75},{"id":"P2","cycle":3,"rfu":68},{"id":"P2","cycle":4,"rfu":60},{"id":"P2","cycle":5,"rfu":52},{"id":"P2","cycle":6,"rfu":45},{"id":"P2","cycle":7,"rfu":40},{"id":"P2","cycle":8,"rfu":35},{"id":"P2","cycle":10,"rfu":25},{"id":"P2","cycle":12,"rfu":18},{"id":"P2","cycle":15,"rfu":12},{"id":"P2","cycle":20,"rfu":8},{"id":"P2","cycle":30,"rfu":5},{"id":"P2","cycle":40,"rfu":5},
{"id":"P3","cycle":1,"rfu":30},{"id":"P3","cycle":5,"rfu":22},{"id":"P3","cycle":10,"rfu":10},{"id":"P3","cycle":20,"rfu":0},{"id":"P3","cycle":40,"rfu":-5},
{"id":"P4","cycle":1,"rfu":-50},{"id":"P4","cycle":5,"rfu":-40},{"id":"P4","cycle":10,"rfu":-25},{"id":"P4","cycle":20,"rfu":-15},{"id":"P4","cycle":40,"rfu":-10},
{"id":"P5","cycle":1,"rfu":110},{"id":"P5","cycle":5,"rfu":70},{"id":"P5","cycle":10,"rfu":30},{"id":"P5","cycle":20,"rfu":10},{"id":"P5","cycle":40,"rfu":10}
],
"yellow":[
{"id":"Y","cycle":1,"rfu":-1230},{"id":"Y","cycle":2,"rfu":-1080},{"id":"Y","cycle":3,"rfu":-930},{"id":"Y","cycle":4,"rfu":-780},{"id":"Y","cycle":5,"rfu":-610},{"id":"Y","cycle":6,"rfu":-430},{"id":"Y","cycle":7,"rfu":-300},{"id":"Y","cycle":8,"rfu":-210},{"id":"Y","cycle":10,"rfu":-110}
],
"magenta":[
{"id":"M","cycle":1,"rfu":60},{"id":"M","cycle":3,"rfu":50},{"id":"M","cycle":5,"rfu":60},{"id":"M","cycle":7,"rfu":90},{"id":"M","cycle":8.2,"rfu":130},{"id":"M","cycle":9.5,"rfu":290},{"id":"M","cycle":10.6,"rfu":480},{"id":"M","cycle":12.2,"rfu":865},{"id":"M","cycle":13.9,"rfu":1250},{"id":"M","cycle":15.8,"rfu":1480},{"id":"M","cycle":17.6,"rfu":1640},{"id":"M","cycle":19,"rfu":1690},{"id":"M","cycle":23,"rfu":1740},{"id":"M","cycle":30,"rfu":1770},{"id":"M","cycle":40,"rfu":1790}
],
"blue":[
{"id":"B","cycle":1,"rfu":350},{"id":"B","cycle":2,"rfu":500},{"id":"B","cycle":3,"rfu":750},{"id":"B","cycle":4,"rfu":1100},{"id":"B","cycle":5,"rfu":1480},{"id":"B","cycle":6,"rfu":1800},{"id":"B","cycle":7,"rfu":2000},{"id":"B","cycle":8,"rfu":2130},{"id":"B","cycle":10,"rfu":2290},{"id":"B","cycle":12,"rfu":2380},{"id":"B","cycle":14,"rfu":2430},{"id":"B","cycle":16,"rfu":2470},{"id":"B","cycle":19,"rfu":2500},{"id":"B","cycle":23,"rfu":2525},{"id":"B","cycle":30,"rfu":2555},{"id":"B","cycle":40,"rfu":2565}
],
"tgf":[
{"id":"TGFA","cycle":1,"rfu":610},{"id":"TGFA","cycle":2,"rfu":720},{"id":"TGFA","cycle":3,"rfu":930},{"id":"TGFA","cycle":4,"rfu":1240},{"id":"TGFA","cycle":5,"rfu":1570},{"id":"TGFA","cycle":6,"rfu":1900},{"id":"TGFA","cycle":7,"rfu":2190},{"id":"TGFA","cycle":8,"rfu":2410},{"id":"TGFA","cycle":9,"rfu":2580},{"id":"TGFA","cycle":10,"rfu":2710},{"id":"TGFA","cycle":11,"rfu":2805},{"id":"TGFA","cycle":12,"rfu":2870},{"id":"TGFA","cycle":13,"rfu":2915},{"id":"TGFA","cycle":14,"rfu":2945},{"id":"TGFA","cycle":15,"rfu":2970},{"id":"TGFA","cycle":17,"rfu":3000},{"id":"TGFA","cycle":20,"rfu":3030},{"id":"TGFA","cycle":25,"rfu":3040},{"id":"TGFA","cycle":30,"rfu":3035},{"id":"TGFA","cycle":35,"rfu":3020},{"id":"TGFA","cycle":38,"rfu":3000},{"id":"TGFA","cycle":40,"rfu":2985}
],
"arrow":[
{"cycle":18.3,"rfu":-3387,"cycle2":12.5,"rfu2":2910},
{"cycle":12.5,"rfu":2910,"cycle2":12.11,"rfu2":2497},
{"cycle":12.5,"rfu":2910,"cycle2":13.38,"rfu2":2626}
],
"label":[{"cycle":18.57,"rfu":-3890,"text":"Transforming growth factor, alpha"}]
},
"encoding":{
 "x":{"field":"cycle","type":"quantitative","scale":{"domain":[0,41.7],"nice":false,"zero":false},
  "axis":{"values":[0,2,4,6,8,10,12,14,16,18,20,22,24,26,28,30,32,34,36,38,40],
   "labelExpr":"datum.value % 10 === 0 ? toString(datum.value) : ''",
   "tickSize":{"condition":{"test":"datum.value % 10 === 0","value":8},"value":5},
   "grid":true,"gridOpacity":{"condition":{"test":"datum.value % 10 === 0 && datum.value > 0","value":1},"value":0},
   "labelPadding":4,"labelFlush":false,"labelOverlap":false,
   "title":"Cycles","titleFontSize":18,"titleX":540,"titleY":55,"titleBaseline":"middle","titleAlign":"center"}},
 "y":{"field":"rfu","type":"quantitative","scale":{"domain":[-1615,3271],"nice":false,"zero":false},
  "axis":{"values":[-1600,-1400,-1200,-1000,-800,-600,-400,-200,0,200,400,600,800,1000,1200,1400,1600,1800,2000,2200,2400,2600,2800,3000,3200],
   "labelExpr":"datum.value % 1000 === 0 ? toString(datum.value) : ''",
   "tickSize":{"condition":{"test":"datum.value % 1000 === 0","value":8},"value":5},
   "grid":true,"gridOpacity":{"condition":{"test":"datum.value % 1000 === 0","value":1},"value":0},
   "labelPadding":8,"labelFlush":false,"labelOverlap":false,
   "title":"RFU","titleFontSize":17,"titleX":-90,"titleY":175,"titleAngle":270,"titleBaseline":"middle","titleAlign":"center"}}
},
"layer":[
 {"data":{"name":"yellow"},"mark":{"type":"line","interpolate":"monotone","color":"#e8e890","strokeWidth":3},"encoding":{"detail":{"field":"id"}}},
 {"data":{"name":"magenta"},"mark":{"type":"line","interpolate":"monotone","color":"#b04fb8","strokeWidth":1.4},"encoding":{"detail":{"field":"id"}}},
 {"data":{"name":"green"},"mark":{"type":"line","interpolate":"monotone","color":"#116d2e","strokeWidth":1.4},"encoding":{"detail":{"field":"id"}}},
 {"data":{"name":"blue"},"mark":{"type":"line","interpolate":"monotone","color":"#1f3f7f","strokeWidth":1.6},"encoding":{"detail":{"field":"id"}}},
 {"data":{"name":"tgf"},"mark":{"type":"line","interpolate":"monotone","color":"#3a0c0c","strokeWidth":6},"encoding":{"detail":{"field":"id"}}},
 {"data":{"name":"arrow"},"mark":{"type":"rule","color":"#000","strokeWidth":7,"strokeCap":"round","clip":false},"encoding":{"x2":{"field":"cycle2"},"y2":{"field":"rfu2"}}},
 {"data":{"name":"label"},"mark":{"type":"text","align":"left","baseline":"alphabetic","font":"Lato","fontWeight":"bold","fontSize":31,"color":"#000","clip":false},"encoding":{"text":{"field":"text"}}}
]
}
